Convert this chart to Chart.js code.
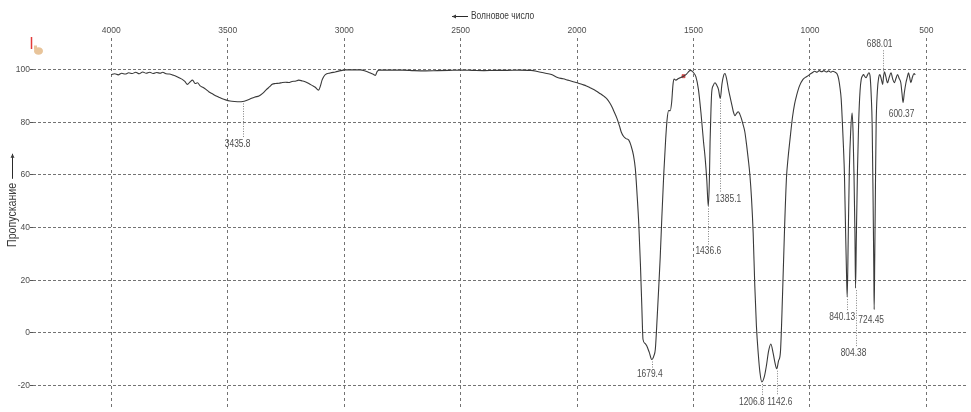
<!DOCTYPE html>
<html>
<head>
<meta charset="utf-8">
<script src="https://cdn.jsdelivr.net/npm/chart.js@4.4.1/dist/chart.umd.min.js"></script>
<style>
  html, body { margin: 0; padding: 0; background: #fff; overflow: hidden; }
  #wrap { width: 971px; height: 412px; }
</style>
</head>
<body>
<div id="wrap"><canvas id="ir" width="971" height="412"></canvas></div>
<script>
// IR spectrum: wavenumber (cm-1) and transmittance (%)
const wavenumbers = [
  4000, 3985, 3970, 3955, 3940, 3925, 3910, 3895, 3880, 3865, 3850, 3835, 3820, 3805, 3790, 3779,
  3765, 3750, 3735, 3722, 3708, 3695, 3684, 3673, 3662, 3651, 3640, 3630, 3618, 3605, 3592, 3580,
  3566, 3552, 3538, 3523, 3509, 3490, 3470, 3450, 3435.8, 3420, 3400, 3383, 3366, 3350, 3335, 3320,
  3309, 3295, 3280, 3265, 3252, 3238, 3224, 3210, 3195, 3180, 3165, 3150, 3138, 3124, 3110, 3102,
  3095, 3088, 3081, 3060, 3038, 3015, 2996, 2960, 2930, 2910, 2890, 2875, 2866, 2858, 2850, 2800,
  2750, 2700, 2650, 2600, 2550, 2500, 2450, 2400, 2350, 2300, 2250, 2198, 2170, 2140, 2110, 2084,
  2060, 2040, 2020, 1999, 1980, 1960, 1942, 1920, 1900, 1885, 1871, 1860, 1850, 1840, 1828, 1818,
  1810, 1800, 1790, 1778, 1768, 1758, 1750, 1742, 1735, 1728, 1722, 1717, 1708, 1701, 1690, 1679.4,
  1670, 1664, 1656, 1649, 1643, 1636, 1628, 1620, 1614, 1607, 1600, 1594, 1588, 1583, 1576, 1565,
  1555, 1543, 1530, 1520, 1514, 1506, 1500, 1490, 1479, 1468, 1457, 1450, 1443, 1436.6, 1432, 1429,
  1425, 1422, 1415, 1408, 1400, 1393, 1385.1, 1378, 1370, 1365, 1358, 1350, 1344, 1336, 1329, 1322,
  1315, 1308, 1301, 1294, 1287, 1280, 1272, 1265, 1258, 1251, 1244, 1237, 1230, 1222, 1215, 1206.8,
  1196, 1187, 1178, 1168, 1158, 1150, 1142.6, 1135, 1127, 1118, 1109, 1101, 1094, 1087, 1075, 1066,
  1058, 1045, 1030, 1015, 1002, 990, 980, 970, 960, 950, 940, 930, 920, 910, 902, 892,
  884, 877, 871, 866, 861, 856, 852, 847, 843, 840.13, 836, 831, 825, 819, 815, 811,
  807, 804.38, 801, 796, 791, 785, 780, 774, 770, 765, 759, 753, 747, 742, 737, 733,
  729, 726, 724.45, 722, 719, 716, 711, 705, 700, 694, 688.01, 684, 680, 674, 667, 660,
  652, 645, 638, 631, 624, 617, 610, 605, 600.37, 595, 588, 582, 577, 572, 567, 560,
  553, 548
];
const transmittance = [
  98.1, 98.4, 98.0, 98.6, 98.3, 98.8, 98.5, 99.0, 98.4, 99.1, 98.6, 99.0, 98.5, 98.9, 98.6, 99.0,
  98.4, 98.3, 97.9, 97.5, 96.9, 96.3, 95.5, 94.4, 95.3, 96.0, 94.7, 95.0, 93.8, 93.2, 92.4, 91.5,
  90.8, 90.1, 89.5, 88.9, 88.5, 88.1, 87.9, 87.8, 87.9, 88.3, 89.0, 89.6, 90.0, 91.0, 92.3, 93.5,
  94.4, 94.7, 94.8, 95.1, 95.2, 95.1, 95.5, 95.6, 96.0, 95.7, 95.3, 94.6, 94.0, 93.3, 92.2, 93.8,
  96.0, 97.3, 98.1, 98.7, 99.1, 99.6, 99.9, 99.9, 99.9, 99.5, 98.8, 98.2, 97.8, 99.3, 99.8, 99.8,
  99.8, 99.6, 99.5, 99.6, 99.7, 99.8, 99.7, 99.6, 99.7, 99.7, 99.8, 99.7, 99.3, 98.7, 98.1, 97.0,
  96.5, 96.0, 95.5, 95.0, 94.4, 93.8, 93.0, 92.0, 90.8, 89.9, 88.8, 87.4, 85.8, 83.8, 81.3, 78.6,
  76.2, 74.6, 73.8, 73.2, 71.0, 67.5, 62.5, 52.0, 41.3, 26.0, 10.0, -2.4, -4.0, -4.9, -7.4, -10.1,
  -8.6, -6.2, 6.0, 18.0, 28.8, 44.0, 60.0, 73.0, 80.6, 84.4, 84.4, 87.5, 94.5, 96.4, 96.0, 96.6,
  97.0, 97.5, 98.3, 99.3, 99.7, 99.4, 98.8, 97.3, 92.5, 83.5, 72.5, 66.3, 58.0, 48.0, 58.0, 72.5,
  85.0, 91.3, 94.0, 95.0, 94.0, 92.5, 89.0, 94.5, 98.0, 98.5, 96.5, 92.5, 90.0, 86.8, 84.0, 82.5,
  83.4, 84.0, 83.0, 81.3, 79.0, 76.5, 71.3, 66.0, 60.0, 51.0, 38.0, 18.0, 2.6, -8.0, -14.9, -18.6,
  -16.6, -12.4, -7.0, -4.2, -7.8, -11.5, -13.6, -10.6, -7.4, 14.0, 40.1, 58.8, 66.5, 72.5, 82.0, 87.0,
  90.0, 93.8, 96.3, 97.3, 98.1, 98.8, 99.4, 99.0, 99.6, 99.2, 99.6, 99.1, 99.5, 99.0, 99.4, 99.0,
  98.4, 96.5, 93.0, 88.8, 80.0, 70.0, 60.0, 38.0, 22.0, 13.6, 35.0, 62.0, 77.0, 83.5, 76.0, 60.0,
  38.0, 17.0, 36.0, 62.0, 80.0, 92.0, 96.3, 97.7, 98.1, 97.4, 96.9, 98.0, 98.8, 97.5, 90.0, 78.8,
  50.0, 25.0, 8.9, 28.0, 55.0, 78.8, 91.5, 97.0, 98.1, 96.5, 94.4, 97.5, 99.2, 97.2, 95.0, 97.0,
  98.8, 96.5, 95.0, 96.6, 98.1, 96.6, 95.0, 91.0, 87.5, 91.2, 95.0, 97.2, 98.8, 97.0, 95.0, 97.2,
  98.5, 98.0
];

// Peak picks shown on the spectrum
const peakWavenumbers = [3435.8, 1679.4, 1436.6, 1385.1, 1206.8, 1142.6, 840.13, 804.38, 724.45, 688.01, 600.37];
const peakLabels = ['3435.8', '1679.4', '1436.6', '1385.1', '1206.8', '1142.6', '840.13', '804.38', '724.45', '688.01', '600.37'];

// Axis ticks and ranges
const xTickValues = [4000, 3500, 3000, 2500, 2000, 1500, 1000, 500];
const yTickValues = [-20, 0, 20, 40, 60, 80, 100];
const xRange = [328, 4336];
const yRange = [-28.1, 112];
const xTitle = 'Волновое число';
const yTitle = 'Пропускание';

// Cursor marker on the trace
const cursorPoints = [{ x: 1543, y: 97.5 }];

const FONT = "'Liberation Sans', Arial, sans-serif";
const TEXT = '#4d4d4d';
const SQUEEZE = 0.8; // narrow lettering for labels and titles
Chart.defaults.font.family = FONT;
Chart.defaults.color = TEXT;

const spectrum = wavenumbers.map((w, i) => ({ x: w, y: transmittance[i] }));

// Label placement relative to each peak point (px): text centre offset and leader span
const placement = {
  '3435.8': { dx: -5, dy: 43, lead: [2, 36] },
  '1679.4': { dx: -2, dy: 15, lead: [2, 9] },
  '1436.6': { dx: 0, dy: 45, lead: [2, 38] },
  '1385.1': { dx: 8, dy: 101, lead: [2, 94] },
  '1206.8': { dx: -10, dy: 20, lead: [2, 14] },
  '1142.6': { dx: 3, dy: 33, lead: [2, 27] },
  '840.13': { dx: -5, dy: 20, lead: [2, 14] },
  '804.38': { dx: -2, dy: 65, lead: [2, 58] },
  '724.45': { dx: -3, dy: 11, lead: null },
  '688.01': { dx: -3, dy: -40, lead: [-13, -34] },
  '600.37': { dx: -1.5, dy: 12, lead: null }
};

function narrowText(ctx, text, x, y, align, squeeze) {
  // draws text horizontally compressed, anchored at x by align
  const k = squeeze || SQUEEZE;
  const w = ctx.measureText(text).width * k;
  let left = x;
  if (align === 'center') left = x - w / 2;
  else if (align === 'right') left = x - w;
  ctx.save();
  ctx.translate(left, y);
  ctx.scale(k, 1);
  ctx.textAlign = 'left';
  ctx.fillText(text, 0, 0);
  ctx.restore();
  return w;
}

function arrowLine(ctx, x1, y1, x2, y2) {
  // straight line from (x1,y1) to (x2,y2) with a small head at (x2,y2)
  const a = Math.atan2(y2 - y1, x2 - x1);
  ctx.beginPath();
  ctx.moveTo(x1, y1);
  ctx.lineTo(x2, y2);
  ctx.stroke();
  ctx.beginPath();
  ctx.moveTo(x2, y2);
  ctx.lineTo(x2 - 4 * Math.cos(a) + 2 * Math.sin(a), y2 - 4 * Math.sin(a) - 2 * Math.cos(a));
  ctx.lineTo(x2 - 4 * Math.cos(a) - 2 * Math.sin(a), y2 - 4 * Math.sin(a) + 2 * Math.cos(a));
  ctx.closePath();
  ctx.fill();
}

const annotations = {
  id: 'spectrumAnnotations',
  afterDatasetsDraw(chart) {
    const { ctx, scales: { x, y } } = chart;
    ctx.save();
    ctx.font = "10.5px " + FONT;
    ctx.textBaseline = 'middle';
    peakWavenumbers.forEach((w, i) => {
      const idx = wavenumbers.indexOf(w);
      const v = transmittance[idx];
      const px = x.getPixelForValue(w);
      const py = y.getPixelForValue(v);
      const p = placement[peakLabels[i]];
      if (p.lead) {
        ctx.save();
        ctx.strokeStyle = '#808080';
        ctx.lineWidth = 1;
        ctx.setLineDash([1, 1.5]);
        ctx.beginPath();
        ctx.moveTo(Math.round(px) + 0.5, py + p.lead[0]);
        ctx.lineTo(Math.round(px) + 0.5, py + p.lead[1]);
        ctx.stroke();
        ctx.restore();
      }
      ctx.fillStyle = TEXT;
      narrowText(ctx, peakLabels[i], px + p.dx, py + p.dy, 'center');
    });

    // axis titles with direction arrows
    ctx.fillStyle = '#3a3a3a';
    ctx.strokeStyle = '#2a2a2a';
    ctx.lineWidth = 1;
    ctx.font = "10.5px " + FONT;
    arrowLine(ctx, 468, 16.5, 452, 16.5);
    narrowText(ctx, xTitle, 471, 16.5, 'left');

    ctx.save();
    ctx.font = "12.5px " + FONT;
    ctx.translate(12.5, 247);
    ctx.rotate(-Math.PI / 2);
    const tw = narrowText(ctx, yTitle, 0, 0, 'left', 0.85);
    arrowLine(ctx, tw + 4, 0, tw + 29, 0);
    ctx.restore();

    // cursor icon in the corner
    ctx.strokeStyle = '#e23a3a';
    ctx.lineWidth = 1.5;
    ctx.beginPath();
    ctx.moveTo(31.5, 37);
    ctx.lineTo(31.5, 49);
    ctx.stroke();
    ctx.fillStyle = '#e8c49a';
    ctx.beginPath();
    ctx.ellipse(38.5, 51, 4.5, 3.8, 0, 0, Math.PI * 2);
    ctx.fill();
    ctx.fillRect(34, 45.5, 3, 4);
    ctx.restore();
  }
};

new Chart(document.getElementById('ir'), {
  type: 'line',
  data: {
    datasets: [
      {
        data: spectrum,
        borderColor: '#3a3a3a',
        borderWidth: 1.1,
        pointRadius: 0,
        cubicInterpolationMode: 'monotone',
        fill: false
      },
      {
        data: cursorPoints,
        showLine: false,
        pointStyle: 'rect',
        pointRadius: 2.2,
        pointBackgroundColor: '#e05050',
        pointBorderColor: '#c03030',
        pointBorderWidth: 0.5
      }
    ]
  },
  options: {
    responsive: false,
    animation: false,
    events: [],
    layout: { padding: 0 },
    plugins: { legend: { display: false }, tooltip: { enabled: false } },
    scales: {
      x: {
        type: 'linear',
        position: 'top',
        reverse: true,
        min: xRange[0],
        max: xRange[1],
        afterBuildTicks(scale) { scale.ticks = xTickValues.map((v) => ({ value: v })); },
        afterFit(scale) { scale.height = 38; },
        border: { display: false, dash: [3, 3] },
        grid: { color: '#737373', lineWidth: 1, drawTicks: false, tickLength: 0 },
        ticks: {
          autoSkip: false,
          maxRotation: 0,
          padding: 2,
          color: TEXT,
          font: { size: 8.5 },
          callback: (v) => String(v)
        }
      },
      y: {
        type: 'linear',
        min: yRange[0],
        max: yRange[1],
        afterBuildTicks(scale) { scale.ticks = yTickValues.map((v) => ({ value: v })); },
        afterFit(scale) { scale.width = 33; },
        border: { display: false, dash: [3, 2] },
        grid: { color: '#737373', lineWidth: 1, drawTicks: true, tickLength: 3, tickColor: '#555' },
        ticks: {
          autoSkip: false,
          padding: 0,
          color: TEXT,
          font: { size: 8.5 },
          callback: (v) => String(v)
        }
      }
    }
  },
  plugins: [annotations]
});
</script>
</body>
</html>
